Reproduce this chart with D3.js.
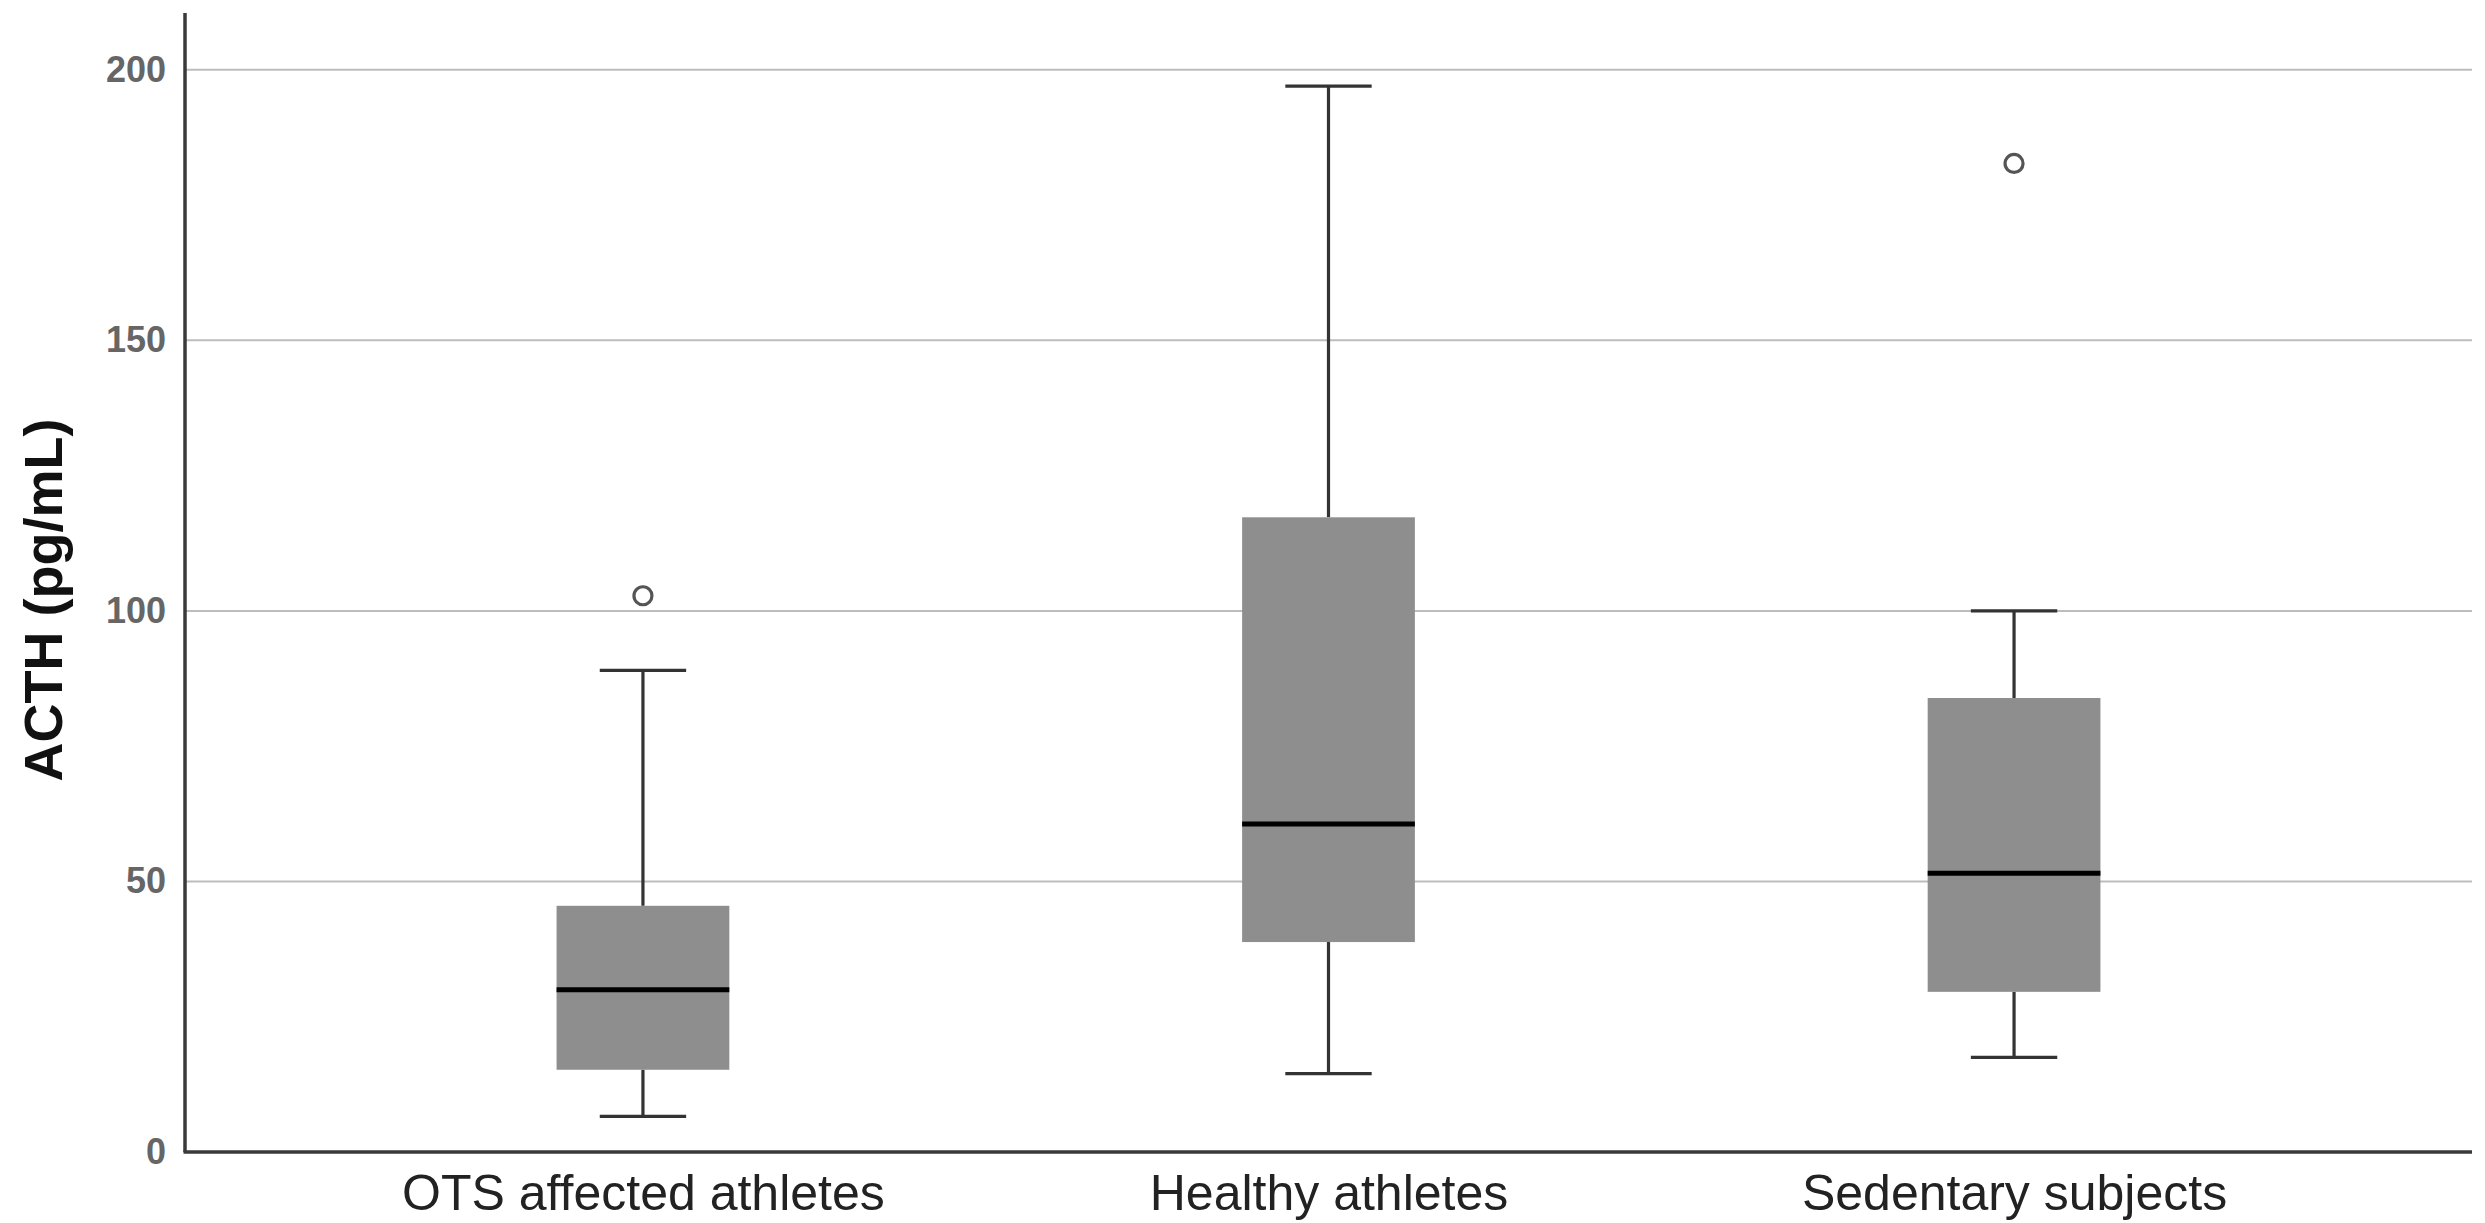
<!DOCTYPE html>
<html>
<head>
<meta charset="utf-8">
<script src="https://cdn.jsdelivr.net/npm/d3@7"></script>
<style>
  html, body { margin: 0; padding: 0; background: #fff; }
  svg { display: block; }
</style>
</head>
<body>
<svg id="chart" width="2485" height="1223"></svg>
<script>
// ACTH concentration by group: box-and-whisker summary
const categories = ["OTS affected athletes", "Healthy athletes", "Sedentary subjects"];
const whiskerLow  = [6.6, 14.5, 17.5];
const q1          = [15.2, 38.8, 29.6];
const median      = [30.0, 60.6, 51.5];
const q3          = [45.5, 117.3, 83.9];
const whiskerHigh = [89.0, 197.0, 100.0];
const outliers    = [[102.8], [], [182.7]];
const yTicks      = [0, 50, 100, 150, 200];
const yMax        = 210.5;
const yTitle      = "ACTH (pg/mL)";

const svg = d3.select("#chart");
const plot = { left: 185, right: 2472, top: 13, bottom: 1152 };

const x = d3.scalePoint()
  .domain(categories)
  .range([plot.left, plot.right])
  .padding(0.668);
const boxW = x.step() * 0.252;
const capW = boxW * 0.5;

const y = d3.scaleLinear()
  .domain([0, yMax])
  .range([plot.bottom, plot.top]);

// horizontal gridlines
svg.append("g")
  .selectAll("line")
  .data(yTicks.filter(t => t > 0))
  .join("line")
  .attr("x1", plot.left).attr("x2", plot.right)
  .attr("y1", d => y(d)).attr("y2", d => y(d))
  .attr("stroke", "#bdbdbd").attr("stroke-width", 2);

// y axis with tick labels
const yAxis = svg.append("g")
  .attr("transform", `translate(${plot.left},0)`)
  .call(d3.axisLeft(y).tickValues(yTicks).tickSize(0).tickPadding(19));
yAxis.select(".domain").remove();
yAxis.selectAll("text")
  .attr("font-family", "Liberation Sans, Arial, sans-serif")
  .attr("font-weight", "bold")
  .attr("font-size", 36)
  .attr("fill", "#666");

// x axis with category labels
const xAxis = svg.append("g")
  .attr("transform", `translate(0,${plot.bottom})`)
  .call(d3.axisBottom(x).tickSize(0).tickPadding(22));
xAxis.select(".domain").remove();
xAxis.selectAll("text")
  .attr("font-family", "Liberation Sans, Arial, sans-serif")
  .attr("font-size", 50)
  .attr("fill", "#222");

// axis lines
svg.append("line")
  .attr("x1", plot.left).attr("x2", plot.left)
  .attr("y1", plot.top).attr("y2", plot.bottom)
  .attr("stroke", "#3a3a3a").attr("stroke-width", 3.5);
svg.append("line")
  .attr("x1", plot.left - 1.5).attr("x2", plot.right)
  .attr("y1", plot.bottom).attr("y2", plot.bottom)
  .attr("stroke", "#3a3a3a").attr("stroke-width", 3.5);

// y axis title
svg.append("text")
  .attr("transform", `translate(62,${y(102)}) rotate(-90)`)
  .attr("text-anchor", "middle")
  .attr("font-family", "Liberation Sans, Arial, sans-serif")
  .attr("font-weight", "bold")
  .attr("font-size", 54)
  .attr("fill", "#111")
  .text(yTitle);

// boxes
const stats = categories.map((c, i) => ({
  cat: c, lo: whiskerLow[i], q1: q1[i], med: median[i], q3: q3[i], hi: whiskerHigh[i], out: outliers[i]
}));

const g = svg.append("g").selectAll("g").data(stats).join("g");

// whisker stems
g.append("line")
  .attr("x1", d => x(d.cat)).attr("x2", d => x(d.cat))
  .attr("y1", d => y(d.q3)).attr("y2", d => y(d.hi))
  .attr("stroke", "#333").attr("stroke-width", 3.2);
g.append("line")
  .attr("x1", d => x(d.cat)).attr("x2", d => x(d.cat))
  .attr("y1", d => y(d.q1)).attr("y2", d => y(d.lo))
  .attr("stroke", "#333").attr("stroke-width", 3.2);

// whisker caps
g.append("line")
  .attr("x1", d => x(d.cat) - capW / 2).attr("x2", d => x(d.cat) + capW / 2)
  .attr("y1", d => y(d.hi)).attr("y2", d => y(d.hi))
  .attr("stroke", "#333").attr("stroke-width", 3.2);
g.append("line")
  .attr("x1", d => x(d.cat) - capW / 2).attr("x2", d => x(d.cat) + capW / 2)
  .attr("y1", d => y(d.lo)).attr("y2", d => y(d.lo))
  .attr("stroke", "#333").attr("stroke-width", 3.2);

// interquartile box
g.append("rect")
  .attr("x", d => x(d.cat) - boxW / 2)
  .attr("width", boxW)
  .attr("y", d => y(d.q3))
  .attr("height", d => y(d.q1) - y(d.q3))
  .attr("fill", "#8e8e8e");

// median
g.append("line")
  .attr("x1", d => x(d.cat) - boxW / 2).attr("x2", d => x(d.cat) + boxW / 2)
  .attr("y1", d => y(d.med)).attr("y2", d => y(d.med))
  .attr("stroke", "#000").attr("stroke-width", 5);

// outliers
g.selectAll("circle")
  .data(d => d.out.map(v => ({ cat: d.cat, v })))
  .join("circle")
  .attr("cx", d => x(d.cat))
  .attr("cy", d => y(d.v))
  .attr("r", 9)
  .attr("fill", "#fff")
  .attr("stroke", "#555")
  .attr("stroke-width", 3.2);
</script>
</body>
</html>
